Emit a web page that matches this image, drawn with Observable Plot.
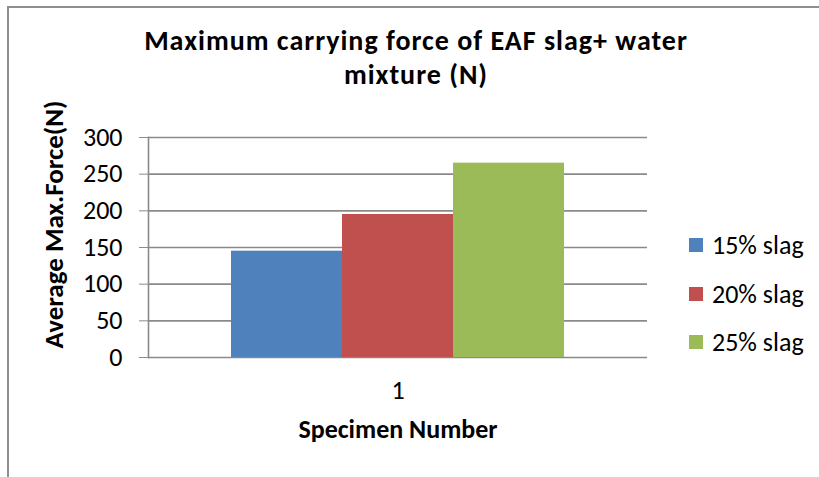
<!DOCTYPE html>
<html>
<head>
<meta charset="utf-8">
<script src="https://cdn.jsdelivr.net/npm/d3@7"></script>
<script src="https://cdn.jsdelivr.net/npm/@observablehq/plot@0.6"></script>
<style>
  html, body { margin: 0; padding: 0; background: #fff; }
  #wrap { position: relative; width: 819px; height: 477px; overflow: hidden; font-family: Calibri, Carlito, Lato, sans-serif; color: #000; }
  #border { position: absolute; left: 7px; top: 6px; width: 830px; height: 480px; border-top: 2px solid #8e8e8e; border-left: 2px solid #8e8e8e; box-sizing: border-box; }
  #title { position: absolute; left: 16px; width: 800px; top: 24px; text-align: center; font-weight: bold; font-size: 28px; line-height: 34px; letter-spacing: 1px; }
  #title div { height: 34px; white-space: nowrap; }
  #chart { position: absolute; left: 0; top: 96px; }
  #legend { position: absolute; left: 689px; top: 221px; }
  #legend [class$="-swatch"] { height: 48.5px; margin: 0 !important; padding: 0 !important; display: flex; align-items: center; }
  #legend svg { margin-right: 9px !important; }
</style>
</head>
<body>
<div id="wrap">
  <div id="border"></div>
  <div id="title"></div>
  <div id="chart"></div>
  <div id="legend"></div>
</div>
<script>
const titleLines = ["Maximum carrying force of EAF slag+ water", "mixture (N)"];
const yLabel = "Average Max.Force(N)";
const xLabel = "Specimen Number";
const specimens = ["1"];
const series = ["15% slag", "20% slag", "25% slag"];
const values = [145, 195, 265];
const colors = ["#4F81BD", "#C0504D", "#9BBB59"];
const yTicks = [0, 50, 100, 150, 200, 250, 300];

const table = series.map((s, i) => ({specimen: specimens[0], series: s, value: values[i]}));

const titleEl = document.getElementById("title");
for (const line of titleLines) {
  const d = document.createElement("div");
  d.textContent = line;
  titleEl.appendChild(d);
}

const font = "Calibri, Carlito, Lato, sans-serif";

const chart = Plot.plot({
  width: 819,
  height: 381,
  marginLeft: 148,
  marginRight: 172,
  marginTop: 41,
  marginBottom: 120,
  style: {fontFamily: font, fontSize: "26px", color: "#000", background: "transparent", overflow: "visible"},
  fx: {domain: specimens, padding: 0},
  x: {domain: series, padding: 0, insetLeft: 82, insetRight: 83, axis: null},
  y: {domain: [0, 300]},
  color: {domain: series, range: colors},
  marks: [
    Plot.gridY(yTicks, {stroke: "#8a8a8a", strokeOpacity: 1, strokeWidth: 1.6}),
    Plot.barY(table, {fx: "specimen", x: "series", y: "value", fill: "series"}),
    Plot.frame({anchor: "left", stroke: "#8a8a8a", strokeWidth: 1.6}),
    Plot.axisY(yTicks, {tickSize: 9, tickPadding: 17, stroke: "#8a8a8a", fill: "#000", label: null, fontSize: 26}),
    Plot.axisFx({anchor: "bottom", tickSize: 0, tickPadding: 23, label: null, fontSize: 26, fill: "#000"}),
    Plot.text([xLabel], {text: d => d, frameAnchor: "bottom", dy: 72, lineAnchor: "middle", textAnchor: "middle", fontWeight: "bold", fontSize: 26, fill: "#000"}),
    Plot.text([yLabel], {text: d => d, frameAnchor: "left", rotate: -90, dx: -94, dy: -23, textAnchor: "middle", lineAnchor: "middle", fontWeight: "bold", fontSize: 27, fill: "#000"})
  ]
});
document.getElementById("chart").appendChild(chart);

const legend = Plot.legend({
  color: {domain: series, range: colors},
  legend: "swatches",
  columns: 1,
  swatchSize: 14,
  style: {fontFamily: font, fontSize: "26px", color: "#000", margin: 0}
});
document.getElementById("legend").appendChild(legend);
</script>
</body>
</html>
